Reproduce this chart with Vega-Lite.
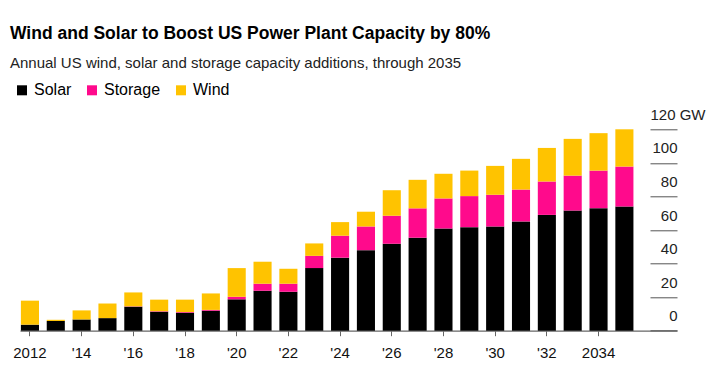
{
  "$schema": "https://vega.github.io/schema/vega-lite/v6.json",
  "width": 657,
  "height": 201.4,
  "autosize": {"type": "none"},
  "padding": {"left": 20, "top": 129.3, "right": 37, "bottom": 44.3},
  "background": "white",
  "title": {
    "text": "Wind and Solar to Boost US Power Plant Capacity by 80%",
    "subtitle": "Annual US wind, solar and storage capacity additions, through 2035",
    "anchor": "start",
    "frame": "group",
    "dx": -10,
    "offset": 11,
    "font": "Liberation Sans",
    "fontSize": 17.5,
    "fontWeight": "bold",
    "color": "#000000",
    "subtitleFont": "Liberation Sans",
    "subtitleFontSize": 15,
    "subtitleColor": "#222222",
    "subtitlePadding": 14
  },
  "data": {
    "values": [
      {"year": 2012, "type": "Solar", "value": 3.6}, {"year": 2012, "type": "Storage", "value": 0}, {"year": 2012, "type": "Wind", "value": 14.3},
      {"year": 2013, "type": "Solar", "value": 5.8}, {"year": 2013, "type": "Storage", "value": 0}, {"year": 2013, "type": "Wind", "value": 0.7},
      {"year": 2014, "type": "Solar", "value": 6.7}, {"year": 2014, "type": "Storage", "value": 0}, {"year": 2014, "type": "Wind", "value": 5.4},
      {"year": 2015, "type": "Solar", "value": 7.5}, {"year": 2015, "type": "Storage", "value": 0}, {"year": 2015, "type": "Wind", "value": 8.7},
      {"year": 2016, "type": "Solar", "value": 14.3}, {"year": 2016, "type": "Storage", "value": 0.2}, {"year": 2016, "type": "Wind", "value": 8.3},
      {"year": 2017, "type": "Solar", "value": 11.3}, {"year": 2017, "type": "Storage", "value": 0.3}, {"year": 2017, "type": "Wind", "value": 6.9},
      {"year": 2018, "type": "Solar", "value": 10.7}, {"year": 2018, "type": "Storage", "value": 0.4}, {"year": 2018, "type": "Wind", "value": 7.4},
      {"year": 2019, "type": "Solar", "value": 11.9}, {"year": 2019, "type": "Storage", "value": 0.5}, {"year": 2019, "type": "Wind", "value": 9.8},
      {"year": 2020, "type": "Solar", "value": 18.7}, {"year": 2020, "type": "Storage", "value": 1.5}, {"year": 2020, "type": "Wind", "value": 17.1},
      {"year": 2021, "type": "Solar", "value": 23.8}, {"year": 2021, "type": "Storage", "value": 4.2}, {"year": 2021, "type": "Wind", "value": 13.1},
      {"year": 2022, "type": "Solar", "value": 23.2}, {"year": 2022, "type": "Storage", "value": 4.8}, {"year": 2022, "type": "Wind", "value": 8.9},
      {"year": 2023, "type": "Solar", "value": 37.3}, {"year": 2023, "type": "Storage", "value": 7.3}, {"year": 2023, "type": "Wind", "value": 7.4},
      {"year": 2024, "type": "Solar", "value": 43.5}, {"year": 2024, "type": "Storage", "value": 13.1}, {"year": 2024, "type": "Wind", "value": 8.1},
      {"year": 2025, "type": "Solar", "value": 48.0}, {"year": 2025, "type": "Storage", "value": 14.1}, {"year": 2025, "type": "Wind", "value": 8.8},
      {"year": 2026, "type": "Solar", "value": 51.8}, {"year": 2026, "type": "Storage", "value": 16.7}, {"year": 2026, "type": "Wind", "value": 15.2},
      {"year": 2027, "type": "Solar", "value": 55.4}, {"year": 2027, "type": "Storage", "value": 17.5}, {"year": 2027, "type": "Wind", "value": 17.0},
      {"year": 2028, "type": "Solar", "value": 60.9}, {"year": 2028, "type": "Storage", "value": 17.9}, {"year": 2028, "type": "Wind", "value": 14.7},
      {"year": 2029, "type": "Solar", "value": 61.7}, {"year": 2029, "type": "Storage", "value": 18.5}, {"year": 2029, "type": "Wind", "value": 15.2},
      {"year": 2030, "type": "Solar", "value": 62.1}, {"year": 2030, "type": "Storage", "value": 18.9}, {"year": 2030, "type": "Wind", "value": 17.2},
      {"year": 2031, "type": "Solar", "value": 65.1}, {"year": 2031, "type": "Storage", "value": 19.0}, {"year": 2031, "type": "Wind", "value": 18.3},
      {"year": 2032, "type": "Solar", "value": 69.0}, {"year": 2032, "type": "Storage", "value": 19.9}, {"year": 2032, "type": "Wind", "value": 20.0},
      {"year": 2033, "type": "Solar", "value": 71.6}, {"year": 2033, "type": "Storage", "value": 20.8}, {"year": 2033, "type": "Wind", "value": 21.9},
      {"year": 2034, "type": "Solar", "value": 73.0}, {"year": 2034, "type": "Storage", "value": 22.4}, {"year": 2034, "type": "Wind", "value": 22.3},
      {"year": 2035, "type": "Solar", "value": 74.0}, {"year": 2035, "type": "Storage", "value": 23.8}, {"year": 2035, "type": "Wind", "value": 22.2}
    ]
  },
  "mark": {"type": "bar"},
  "encoding": {
    "x": {
      "field": "year",
      "type": "ordinal",
      "scale": {"paddingInner": 0.3, "paddingOuter": 0.86, "align": 0.02},
      "axis": {
        "title": null,
        "values": [2012, 2014, 2016, 2018, 2020, 2022, 2024, 2026, 2028, 2030, 2032, 2034],
        "labelExpr": "(datum.value == 2012 || datum.value == 2034) ? datum.label : \"'\" + slice(datum.label, 2)",
        "labelAngle": 0,
        "domainColor": "#666666",
        "domainWidth": 1.3,
        "tickColor": "#666666",
        "tickSize": 5,
        "tickWidth": 1,
        "labelFont": "Liberation Sans",
        "labelFontSize": 15,
        "labelColor": "#111111",
        "labelPadding": 10,
        "grid": false
      }
    },
    "y": {
      "field": "value",
      "type": "quantitative",
      "stack": "zero",
      "scale": {"domain": [0, 120], "nice": false},
      "axis": {
        "title": null,
        "orient": "right",
        "offset": -27,
        "domain": false,
        "grid": false,
        "ticks": true,
        "tickSize": 27,
        "tickColor": "#555555",
        "tickWidth": 1,
        "values": [0, 20, 40, 60, 80, 100, 120],
        "labelExpr": "datum.value == 120 ? '120 GW' : datum.label",
        "labelFont": "Liberation Sans",
        "labelFontSize": 15,
        "labelColor": "#222222",
        "labelBaseline": "alphabetic",
        "labelOffset": -10,
        "labelAlign": {"condition": {"test": "datum.value == 120", "value": "left"}, "value": "right"},
        "labelPadding": {"condition": {"test": "datum.value == 120", "value": -27}, "value": 0}
      }
    },
    "order": {"field": "type", "sort": "ascending"},
    "color": {
      "field": "type",
      "type": "nominal",
      "scale": {"domain": ["Solar", "Storage", "Wind"], "range": ["#000000", "#ff0a8c", "#ffc300"]},
      "legend": {
        "title": null,
        "orient": "none",
        "legendX": -6,
        "legendY": -47,
        "direction": "horizontal",
        "symbolType": "square",
        "symbolSize": 100,
        "symbolStrokeWidth": 0,
        "symbolOpacity": 1,
        "labelFont": "Liberation Sans",
        "labelFontSize": 16,
        "labelColor": "#000000",
        "labelOffset": 4,
        "columnPadding": 12
      }
    }
  },
  "config": {
    "view": {"stroke": null}
  }
}
